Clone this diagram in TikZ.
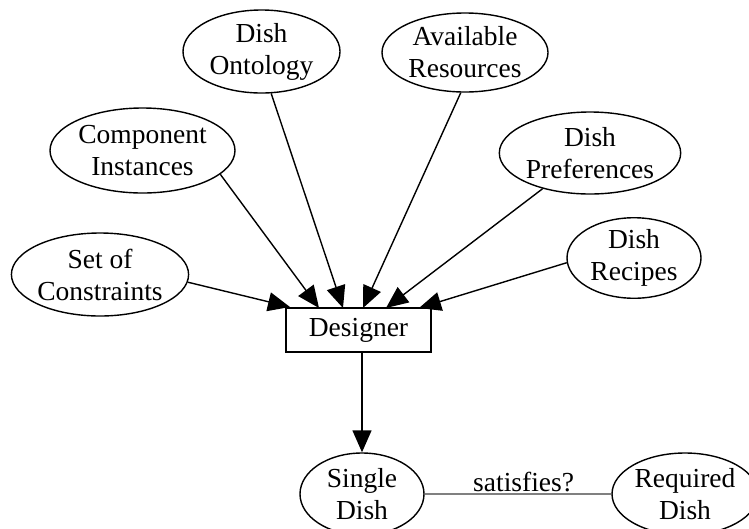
\documentclass[tikz,border=0pt]{standalone}
\usepackage{fontspec}
\setmainfont{Liberation Serif}
\usetikzlibrary{shapes.geometric,arrows.meta}
\begin{document}
\begin{tikzpicture}[x=1pt,y=-1pt,
  every node/.style={font=\fontsize{27.5}{32}\selectfont, align=center},
  ell/.style={ellipse, draw, line width=1.4pt, inner sep=0pt},
  box/.style={rectangle, draw, line width=1.4pt, inner sep=0pt, minimum width=145pt, minimum height=44pt},
  arr/.style={line width=1.4pt, -{Triangle[length=22pt,width=19pt]}},
  rel/.style={line width=1.2pt, gray}]
\useasboundingbox (0,0) rectangle (749,528);
\clip (0,0) rectangle (749,528);
\node[ell, minimum width=176pt, minimum height=83pt] (soc) at (100,274.5) {Set of\\Constraints};
\node[ell, minimum width=185pt, minimum height=85pt] (ci) at (142.5,150.5) {Component\\Instances};
\node[ell, minimum width=157pt, minimum height=83pt] (do) at (261.5,51.5) {Dish\\Ontology};
\node[ell, minimum width=166pt, minimum height=79pt] (ar) at (465,52.5) {Available\\Resources};
\node[ell, minimum width=164pt, minimum height=82pt] (dp) at (590,153) {Dish\\Preferences};
\node[ell, minimum width=134pt, minimum height=80pt] (dr) at (634,258) {Dish\\Recipes};
\node[box] (des) at (358.5,330) {Designer};
\node[ell, minimum width=124pt, minimum height=82pt] (sd) at (362,494) {Single\\Dish};
\node[ell, minimum width=146pt, minimum height=82pt] (rd) at (685,494) {Required\\Dish};
\coordinate (t1) at (290,307);
\coordinate (t2) at (319,308);
\coordinate (t3) at (343,308);
\coordinate (t4) at (363,308);
\coordinate (t5) at (386,308);
\coordinate (t6) at (419,308);
\draw[arr] (soc.-5) -- (t1);
\draw[arr] (ci.-17) -- (t2);
\draw[arr] (do.-77) -- (t3);
\draw[arr] (ar.-96) -- (t4);
\draw[arr] (dp.-143) -- (t5);
\draw[arr] (dr.-176) -- (t6);
\draw[arr] (des.south -| sd.north) -- (sd.north);
\draw[rel] (sd) -- node[pos=0.53, above, inner sep=2pt, text=black] {satisfies?} (rd);
\end{tikzpicture}
\end{document}
